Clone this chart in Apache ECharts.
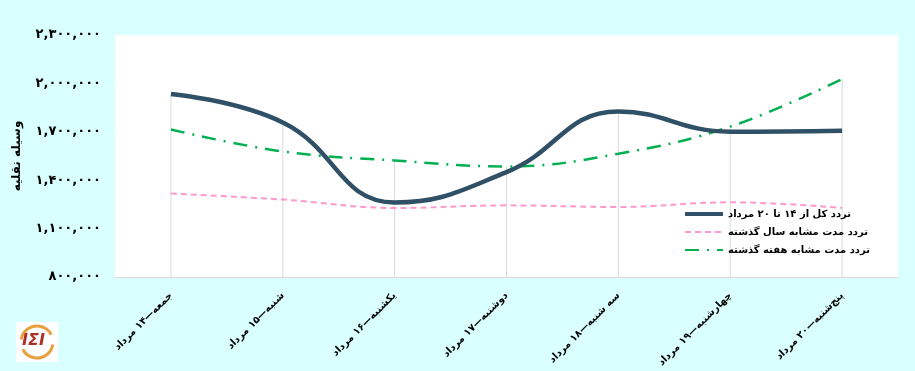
<!DOCTYPE html>
<html>
<head>
<meta charset="utf-8">
<script src="https://cdn.jsdelivr.net/npm/echarts@6/dist/echarts.min.js"></script>
<style>
html,body{margin:0;padding:0;background:#DAFFFF;}
#c{width:915px;height:371px;}
</style>
</head>
<body>
<div id="c"></div>
<script>
const categories = ['جمعه—۱۴ مرداد','شنبه—۱۵ مرداد','یکشنبه—۱۶ مرداد','دوشنبه—۱۷ مرداد','سه شنبه—۱۸ مرداد','چهارشنبه—۱۹ مرداد','پنج‌شنبه—۲۰ مرداد'];
const seriesNames = ['تردد کل از ۱۴ تا ۲۰ مرداد','تردد مدت مشابه سال گذشته','تردد مدت مشابه هفته گذشته'];
const totalValues = [1935000, 1758000, 1262000, 1450000, 1826000, 1701000, 1707000];
const lastYearValues = [1317000, 1280000, 1228000, 1244000, 1234000, 1263000, 1228000];
const lastWeekValues = [1714000, 1578000, 1522000, 1485000, 1564000, 1732000, 2027000];
const yTicks = [800000, 1100000, 1400000, 1700000, 2000000, 2300000];
const yAxisName = 'وسیله نقلیه';

const dropValues = categories.map((_, i) => Math.max(totalValues[i], lastYearValues[i], lastWeekValues[i]));

function toPersian(n){
  const s = Math.round(n).toString().replace(/\B(?=(\d{3})+(?!\d))/g, ',');
  return s.replace(/\d/g, d => '۰۱۲۳۴۵۶۷۸۹'[+d]);
}

const font = '"DejaVu Sans", "Noto Sans", sans-serif';
const chart = echarts.init(document.getElementById('c'));
chart.setOption({
  backgroundColor: '#DAFFFF',
  animation: false,
  grid: {left: 115, right: 17, top: 35, bottom: 94, show: true, backgroundColor: '#ffffff', borderWidth: 0, containLabel: false, outerBoundsMode: 'none'},
  legend: {
    orient: 'vertical', left: 678, top: 204, itemGap: 8, itemWidth: 38, itemHeight: 12,
    data: [
      {name: seriesNames[0], lineStyle: {width: 4}},
      {name: seriesNames[1]},
      {name: seriesNames[2]}
    ],
    itemStyle: {opacity: 0},
    textStyle: {fontFamily: font, fontWeight: 'bold', fontSize: 10, color: '#000'}
  },
  xAxis: {
    type: 'category', data: categories, boundaryGap: true,
    axisLine: {show: true, lineStyle: {color: '#D9D9D9', width: 1}},
    axisTick: {show: false},
    splitLine: {show: false},
    axisLabel: {rotate: 45, margin: 17, interval: 0, fontFamily: font, fontWeight: 'bold', fontSize: 10, color: '#000'}
  },
  yAxis: {
    type: 'value', min: yTicks[0], max: yTicks[yTicks.length-1], interval: 300000,
    name: yAxisName, nameLocation: 'middle', nameRotate: 90, nameGap: 92,
    nameTextStyle: {fontFamily: font, fontWeight: 'bold', fontSize: 12, color: '#000'},
    axisLine: {show: false}, axisTick: {show: false}, splitLine: {show: false},
    axisLabel: {margin: 14, fontFamily: font, fontWeight: 'bold', fontSize: 13, color: '#000', formatter: v => toPersian(v)}
  },
  series: [
    {
      name: 'drop', type: 'bar', data: dropValues, barWidth: 1, silent: true, z: 1,
      itemStyle: {color: '#D9D9D9'}, legendHoverLink: false
    },
    {
      name: seriesNames[0], type: 'line', data: totalValues, smooth: 0.45, symbol: 'none', z: 5,
      lineStyle: {color: '#2F5066', width: 4.5}, itemStyle: {color: '#2F5066'}
    },
    {
      name: seriesNames[1], type: 'line', data: lastYearValues, smooth: 0.4, symbol: 'none', z: 3,
      lineStyle: {color: '#FF99CC', width: 2, type: [6, 4]}, itemStyle: {color: '#FF99CC'}
    },
    {
      name: seriesNames[2], type: 'line', data: lastWeekValues, smooth: 0.4, symbol: 'none', z: 4,
      lineStyle: {color: '#00B050', width: 2.5, type: [14, 8, 2, 8]}, itemStyle: {color: '#00B050'}
    }
  ],
  graphic: [
    {type: 'rect', left: 16, top: 322, shape: {width: 42, height: 40}, style: {fill: '#ffffff'}},
    {type: 'arc', shape: {cx: 37, cy: 342, r: 16, startAngle: Math.PI*1.05, endAngle: Math.PI*1.85}, style: {stroke: '#E8A040', lineWidth: 3, fill: null}},
    {type: 'arc', shape: {cx: 37, cy: 342, r: 16, startAngle: Math.PI*0.05, endAngle: Math.PI*0.85}, style: {stroke: '#E8A040', lineWidth: 3, fill: null}},
    {type: 'text', left: 22, top: 333, style: {text: 'IΣI', font: 'italic bold 16px "DejaVu Sans", sans-serif', fill: '#A8322A'}}
  ]
});
</script>
</body>
</html>
